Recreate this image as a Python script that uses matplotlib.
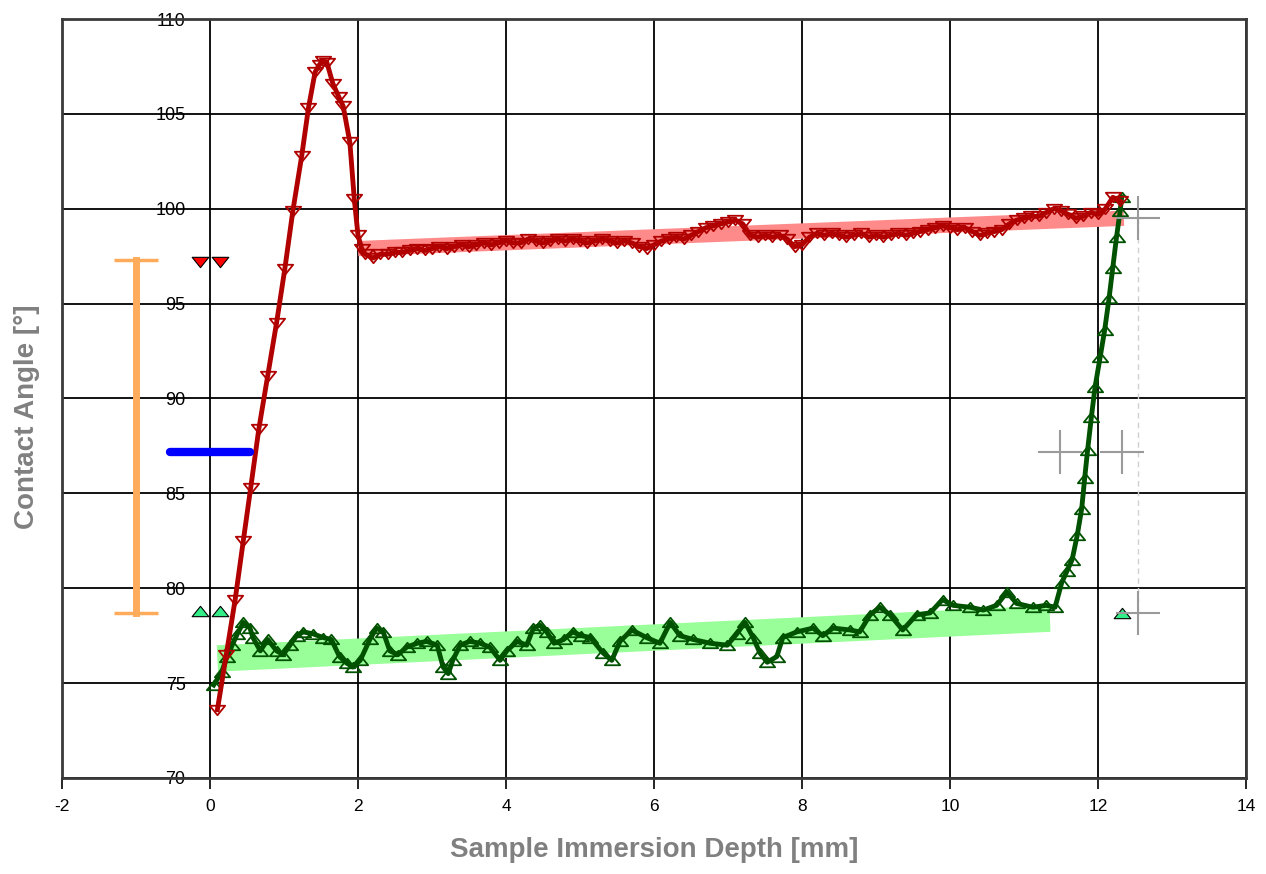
import matplotlib
matplotlib.use('Agg')
import matplotlib.pyplot as plt
import numpy as np
from matplotlib.path import Path

plt.rcParams['axes.unicode_minus'] = False

# advancing (red) curve
adv_x = [0.10, 0.22, 0.34, 0.45, 0.55, 0.66, 0.78, 0.90, 1.01, 1.12, 1.24, 1.33,
         1.42, 1.48, 1.53, 1.58, 1.66, 1.74, 1.80, 1.89, 1.95, 2.00, 2.05,
         2.1, 2.2, 2.3, 2.4, 2.5, 2.6, 2.7, 2.8, 2.9, 3.0, 3.1, 3.2, 3.3, 3.4,
         3.5, 3.6, 3.7, 3.8, 3.9, 4.0, 4.1, 4.2, 4.3, 4.4, 4.5, 4.6, 4.7, 4.8,
         4.9, 5.0, 5.1, 5.2, 5.3, 5.4, 5.5, 5.6, 5.7, 5.8, 5.9, 6.0, 6.1, 6.2,
         6.3, 6.4, 6.5, 6.6, 6.7, 6.8, 6.9, 7.0, 7.1, 7.2, 7.3, 7.4, 7.5, 7.6,
         7.7, 7.8, 7.9, 8.0, 8.1, 8.2, 8.3, 8.4, 8.5, 8.6, 8.7, 8.8, 8.9, 9.0,
         9.1, 9.2, 9.3, 9.4, 9.5, 9.6, 9.7, 9.8, 9.9, 10.0, 10.1, 10.2, 10.3,
         10.4, 10.5, 10.6, 10.7, 10.8, 10.9, 11.0, 11.1, 11.2, 11.3, 11.4, 11.5,
         11.6, 11.7, 11.8, 11.9, 12.0, 12.1, 12.2, 12.3]
adv_y = [73.6, 76.5, 79.4, 82.5, 85.3, 88.4, 91.2, 94.0, 96.8, 99.9, 102.8, 105.3,
         107.2, 107.6, 107.8, 107.7, 106.6, 105.9, 105.4, 103.5, 100.5, 98.6, 97.9,
         97.6, 97.4, 97.6, 97.6, 97.7, 97.7, 97.8, 97.9, 97.8, 97.9, 98.0, 97.9,
         98.0, 98.1, 98.0, 98.1, 98.2, 98.1, 98.2, 98.3, 98.2, 98.2, 98.4, 98.3,
         98.2, 98.3, 98.4, 98.3, 98.4, 98.3, 98.2, 98.3, 98.4, 98.3, 98.2, 98.3,
         98.2, 98.0, 97.9, 98.1, 98.3, 98.4, 98.5, 98.4, 98.6, 98.8, 99.0, 99.1,
         99.2, 99.3, 99.4, 99.2, 98.6, 98.5, 98.6, 98.5, 98.6, 98.4, 98.0, 98.1,
         98.5, 98.7, 98.6, 98.7, 98.6, 98.5, 98.6, 98.7, 98.5, 98.6, 98.5, 98.6,
         98.7, 98.6, 98.7, 98.8, 98.9, 99.0, 99.1, 99.0, 98.9, 99.0, 98.8, 98.6,
         98.7, 98.8, 98.9, 99.2, 99.4, 99.5, 99.6, 99.6, 99.8, 100.0, 99.9, 99.7,
         99.5, 99.6, 99.8, 99.7, 100.0, 100.6, 100.4]

# receding (green) curve
rec_x = [0.05, 0.16, 0.23, 0.30, 0.37, 0.45, 0.54, 0.58, 0.68, 0.78, 0.90, 0.99,
         1.08, 1.17, 1.26, 1.39, 1.53, 1.64, 1.75, 1.85, 1.93, 2.03, 2.16, 2.25,
         2.34, 2.43, 2.54, 2.66, 2.80, 2.93, 3.07, 3.15, 3.22, 3.28, 3.38, 3.51,
         3.65, 3.78, 3.92, 4.01, 4.15, 4.28, 4.37, 4.46, 4.55, 4.65, 4.78, 4.90,
         5.02, 5.14, 5.31, 5.43, 5.54, 5.70, 5.90, 6.08, 6.22, 6.35, 6.53, 6.76,
         6.99, 7.12, 7.23, 7.34, 7.43, 7.53, 7.66, 7.74, 7.93, 8.15, 8.28, 8.42,
         8.65, 8.78, 8.92, 9.05, 9.19, 9.36, 9.55, 9.73, 9.90, 10.04, 10.27,
         10.45, 10.63, 10.77, 10.90, 11.12, 11.30, 11.42, 11.51, 11.58, 11.65,
         11.72, 11.78, 11.82, 11.86, 11.91, 11.96, 12.03, 12.09, 12.15, 12.20,
         12.25, 12.30, 12.32]
rec_y = [74.9, 75.6, 76.4, 77.0, 77.6, 78.2, 77.9, 77.4, 76.7, 77.3, 76.7, 76.5,
         77.0, 77.5, 77.7, 77.6, 77.4, 77.3, 76.4, 76.05, 75.85, 76.2, 77.3, 77.9,
         77.7, 76.7, 76.5, 76.9, 77.1, 77.2, 77.0, 75.85, 75.5, 76.2, 77.0, 77.2,
         77.1, 76.9, 76.2, 76.7, 77.2, 77.0, 77.9, 78.05, 77.7, 77.1, 77.3, 77.7,
         77.5, 77.4, 76.6, 76.2, 77.2, 77.8, 77.4, 77.1, 78.2, 77.5, 77.3, 77.1,
         77.0, 77.6, 78.2, 77.4, 76.6, 76.1, 76.4, 77.4, 77.7, 77.9, 77.5, 77.9,
         77.8, 77.7, 78.6, 79.0, 78.6, 77.8, 78.6, 78.7, 79.4, 79.1, 79.0,
         78.85, 79.1, 79.8, 79.2, 79.0, 79.1, 79.0, 80.3, 80.9, 81.5,
         82.8, 84.2, 85.8, 87.3, 89.0, 90.6, 92.2, 93.6, 95.3, 96.9,
         98.5, 99.9, 100.6]

# linear fit bands (x range and end values)
adv_fit_x = [2.0, 12.35]
adv_fit_y = [97.9, 99.5]
rec_fit_x = [0.1, 11.35]
rec_fit_y = [76.3, 78.4]

# summary markers
err_x, err_low, err_high = -1.0, 78.7, 97.3
mean_x = [-0.54, 0.54]
mean_y = 87.2
adv_pts_x = [-0.14, 0.14]
adv_pts_y = [97.2, 97.2]
rec_pts_x = [-0.14, 0.14, 12.32]
rec_pts_y = [78.8, 78.8, 78.7]
cross_x = [12.54, 11.49, 12.33, 12.54]
cross_y = [99.5, 87.2, 87.2, 78.7]

up_tri = Path([(-1, -0.62), (1, -0.62), (0, 0.62), (-1, -0.62)],
              [Path.MOVETO, Path.LINETO, Path.LINETO, Path.CLOSEPOLY])
down_tri = Path([(-1, 0.62), (1, 0.62), (0, -0.62), (-1, 0.62)],
                [Path.MOVETO, Path.LINETO, Path.LINETO, Path.CLOSEPOLY])

fig = plt.figure(figsize=(12.66, 8.74), dpi=100)
ax = fig.add_axes([62 / 1266, 1 - 778 / 874, 1184 / 1266, 759 / 874])

ax.set_xlim(-2, 14)
ax.set_ylim(70, 110)
ax.set_xticks(np.arange(-2, 15, 2))
ax.set_yticks(np.arange(70, 111, 5))
ax.grid(True, color='black', lw=1.3)
ax.set_axisbelow(True)

# fit bands
ax.plot(rec_fit_x, rec_fit_y, color='#99ff99', lw=19, solid_capstyle='butt', zorder=2)
ax.plot(adv_fit_x, adv_fit_y, color='#ff8a8a', lw=11, solid_capstyle='butt', zorder=2)

# curves
ax.plot(rec_x, rec_y, color='#005200', lw=3.5, marker=up_tri, ms=11, mfc='none',
        mec='#005200', mew=1.3, zorder=3)
ax.plot(adv_x, adv_y, color='#b00000', lw=3.5, marker=down_tri, ms=11, mfc='none',
        mec='#b00000', mew=1.3, zorder=4)

# error bar
eb = ax.errorbar([err_x], [(err_low + err_high) / 2], yerr=[[(err_high - err_low) / 2]],
                 fmt='none', ecolor='#ffab5c', elinewidth=5, capsize=16, capthick=2.5,
                 zorder=5)
for cap in eb[1]:
    cap.set_color('#ff8c1a')
for bl in eb[2]:
    bl.set_capstyle('projecting')

ax.plot(mean_x, [mean_y, mean_y], color='#0000ff', lw=6, solid_capstyle='round', zorder=5)

ax.plot(adv_pts_x, adv_pts_y, ls='none', marker=down_tri, ms=12, mfc='#ff0000',
        mec='black', mew=0.8, zorder=6)
ax.plot(rec_pts_x, rec_pts_y, ls='none', marker=up_tri, ms=12, mfc='#33ee88',
        mec='black', mew=0.8, zorder=6)

ax.plot([cross_x[0], cross_x[3]], [cross_y[0], cross_y[3]], color='#d0d0d0', lw=1,
        dashes=(4, 3), zorder=3)
ax.plot(cross_x, cross_y, ls='none', marker='+', ms=32, mec='#9a9a9a', mew=1.5, zorder=6)

# axes styling
for side in ['left', 'right', 'top', 'bottom']:
    ax.spines[side].set_color('#3a3a3a')
    ax.spines[side].set_linewidth(2)
ax.tick_params(axis='y', length=0, pad=-89, labelsize=13, labelcolor='black')
ax.tick_params(axis='x', direction='out', length=8, width=1.2, pad=7, labelsize=12.5)

ax.set_xlabel('Sample Immersion Depth [mm]', fontsize=20, fontweight='bold',
              color='#808080', family='Liberation Sans')
ax.xaxis.set_label_coords(0.5, -0.078)
ax.set_ylabel('Contact Angle [°]', fontsize=20, fontweight='bold',
              color='#808080', family='Liberation Sans')
ax.yaxis.set_label_coords(-0.019, 0.476)
for lbl in ax.get_xticklabels() + ax.get_yticklabels():
    lbl.set_family('Liberation Sans')

fig.savefig('out.png', dpi=100)
